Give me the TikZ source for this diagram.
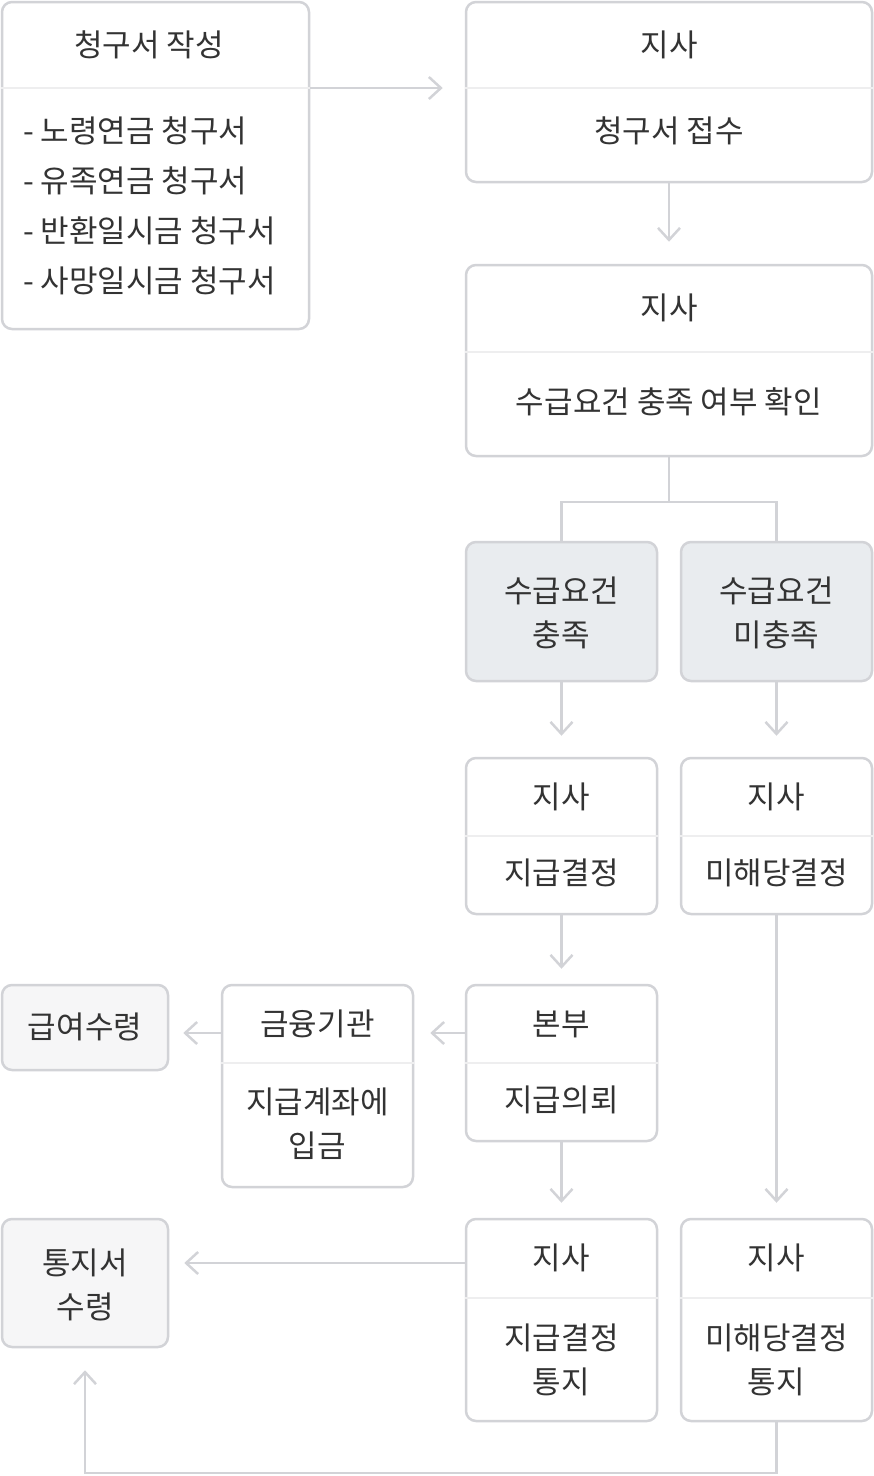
\documentclass[tikz,border=0pt]{standalone}
\usepackage{fontspec}
\setmainfont{Noto Sans CJK KR}
\usetikzlibrary{arrows.meta}
\definecolor{bordc}{HTML}{D2D3D7}
\definecolor{divc}{HTML}{EEEEEF}
\definecolor{fillA}{HTML}{E9ECEF}
\definecolor{fillB}{HTML}{F6F6F7}
\definecolor{txtc}{HTML}{333333}
\begin{document}
\begin{tikzpicture}[x=1pt,y=-1pt,
  box/.style={draw=bordc, line width=2.5pt, rounded corners=10pt, fill=white, inner sep=0pt},
  graybox/.style={box, fill=fillA},
  lightbox/.style={box, fill=fillB},
  lbl/.style={text=txtc, font=\fontsize{31}{44}\selectfont, align=center, inner sep=0pt},
  llbl/.style={lbl, align=left, anchor=west},
  divl/.style={draw=divc, line width=2pt},
  conn/.style={draw=bordc, line width=2.5pt},
  arr/.style={conn, -{Straight Barb[length=12pt,width=22pt,line width=2.5pt]}}
]
\path[use as bounding box] (0,0) rectangle (874,1476);

% Box A
\node[box, minimum width=307pt, minimum height=327pt] (A) at (155.5,165.5) {};
\coordinate (Ad) at (0,88);
\draw[divl] (A.west |- Ad) -- (A.east |- Ad);
\node[lbl] (At) at (149,45) {청구서 작성};
\node[llbl] (A1) at (23,131) {- 노령연금 청구서};
\node[llbl] (A2) at (23,181) {- 유족연금 청구서};
\node[llbl] (A3) at (23,231) {- 반환일시금 청구서};
\node[llbl] (A4) at (23,281) {- 사망일시금 청구서};

% Box B
\node[box, minimum width=406pt, minimum height=180pt] (B) at (669,92) {};
\draw[divl] (B.west |- Ad) -- (B.east |- Ad);
\node[lbl] (Bt) at (669,45) {지사};
\node[lbl] (Bb) at (669,131) {청구서 접수};

% Box C
\node[box, minimum width=406pt, minimum height=191pt] (C) at (669,360.5) {};
\coordinate (Cd) at (0,352);
\draw[divl] (C.west |- Cd) -- (C.east |- Cd);
\node[lbl] (Ct) at (669,308) {지사};
\node[lbl] (Cb) at (669,402) {수급요건 충족 여부 확인};

% Box D1, D2
\node[graybox, minimum width=191pt, minimum height=139pt] (D1) at (561.5,611.5) {};
\node[lbl] (D1t) at (561.5,613) {수급요건\\충족};
\node[graybox, minimum width=191pt, minimum height=139pt] (D2) at (776.5,611.5) {};
\node[lbl] (D2t) at (776.5,613) {수급요건\\미충족};

% Box E1, E2
\node[box, minimum width=191pt, minimum height=156pt] (E1) at (561.5,836) {};
\coordinate (Ed) at (0,836);
\draw[divl] (E1.west |- Ed) -- (E1.east |- Ed);
\node[lbl] (E1t) at (561.5,797) {지사};
\node[lbl] (E1b) at (561.5,873) {지급결정};
\node[box, minimum width=191pt, minimum height=156pt] (E2) at (776.5,836) {};
\draw[divl] (E2.west |- Ed) -- (E2.east |- Ed);
\node[lbl] (E2t) at (776.5,797) {지사};
\node[lbl] (E2b) at (776.5,873) {미해당결정};

% Box F
\node[box, minimum width=191pt, minimum height=156pt] (F) at (561.5,1063) {};
\coordinate (Fd) at (0,1063);
\draw[divl] (F.west |- Fd) -- (F.east |- Fd);
\node[lbl] (Ft) at (561.5,1024) {본부};
\node[lbl] (Fb) at (561.5,1100) {지급의뢰};

% Box G
\node[box, minimum width=191pt, minimum height=202pt] (G) at (317.5,1086) {};
\draw[divl] (G.west |- Fd) -- (G.east |- Fd);
\node[lbl] (Gt) at (317.5,1024) {금융기관};
\node[lbl] (Gb) at (317.5,1124) {지급계좌에\\입금};

% Box H
\node[lightbox, minimum width=166pt, minimum height=85pt] (H) at (85,1027.5) {};
\node[lbl] (Ht) at (85,1027) {급여수령};

% Box I1, I2
\node[box, minimum width=191pt, minimum height=202pt] (I1) at (561.5,1320) {};
\coordinate (Id) at (0,1298);
\draw[divl] (I1.west |- Id) -- (I1.east |- Id);
\node[lbl] (I1t) at (561.5,1258) {지사};
\node[lbl] (I1b) at (561.5,1360) {지급결정\\통지};
\node[box, minimum width=191pt, minimum height=202pt] (I2) at (776.5,1320) {};
\draw[divl] (I2.west |- Id) -- (I2.east |- Id);
\node[lbl] (I2t) at (776.5,1258) {지사};
\node[lbl] (I2b) at (776.5,1360) {미해당결정\\통지};

% Box J
\node[lightbox, minimum width=166pt, minimum height=128pt] (J) at (85,1283) {};
\node[lbl] (Jt) at (85,1285) {통지서\\수령};

% connectors
\draw[arr] (A.east |- Ad) -- ([xshift=-22pt]B.west |- Ad);
\draw[arr] (B.south) -- ([yshift=22pt]C.north);
\coordinate (Cj) at (669,502);
\draw[conn] (C.south) -- (Cj);
\draw[conn] (D1.north) |- (Cj) -| (D2.north);
\draw[arr] (D1.south) -- ([yshift=21pt]E1.north);
\draw[arr] (D2.south) -- ([yshift=21pt]E2.north);
\draw[arr] (E1.south) -- ([yshift=15pt]F.north);
\coordinate (Fa) at (0,1033);
\draw[arr] (F.west |- Fa) -- ([xshift=16pt]G.east |- Fa);
\draw[arr] (G.west |- Fa) -- ([xshift=14pt]H.east |- Fa);
\draw[arr] (F.south) -- ([yshift=15pt]I1.north);
\draw[arr] (E2.south) -- ([yshift=15pt]I2.north);
\coordinate (Ia) at (0,1263);
\draw[arr] (I1.west |- Ia) -- ([xshift=15pt]J.east |- Ia);
\coordinate (Lb) at (0,1473);
\draw[arr] (I2.south) -- (I2.south |- Lb) -| ([yshift=-22pt]J.south);
\end{tikzpicture}
\end{document}
